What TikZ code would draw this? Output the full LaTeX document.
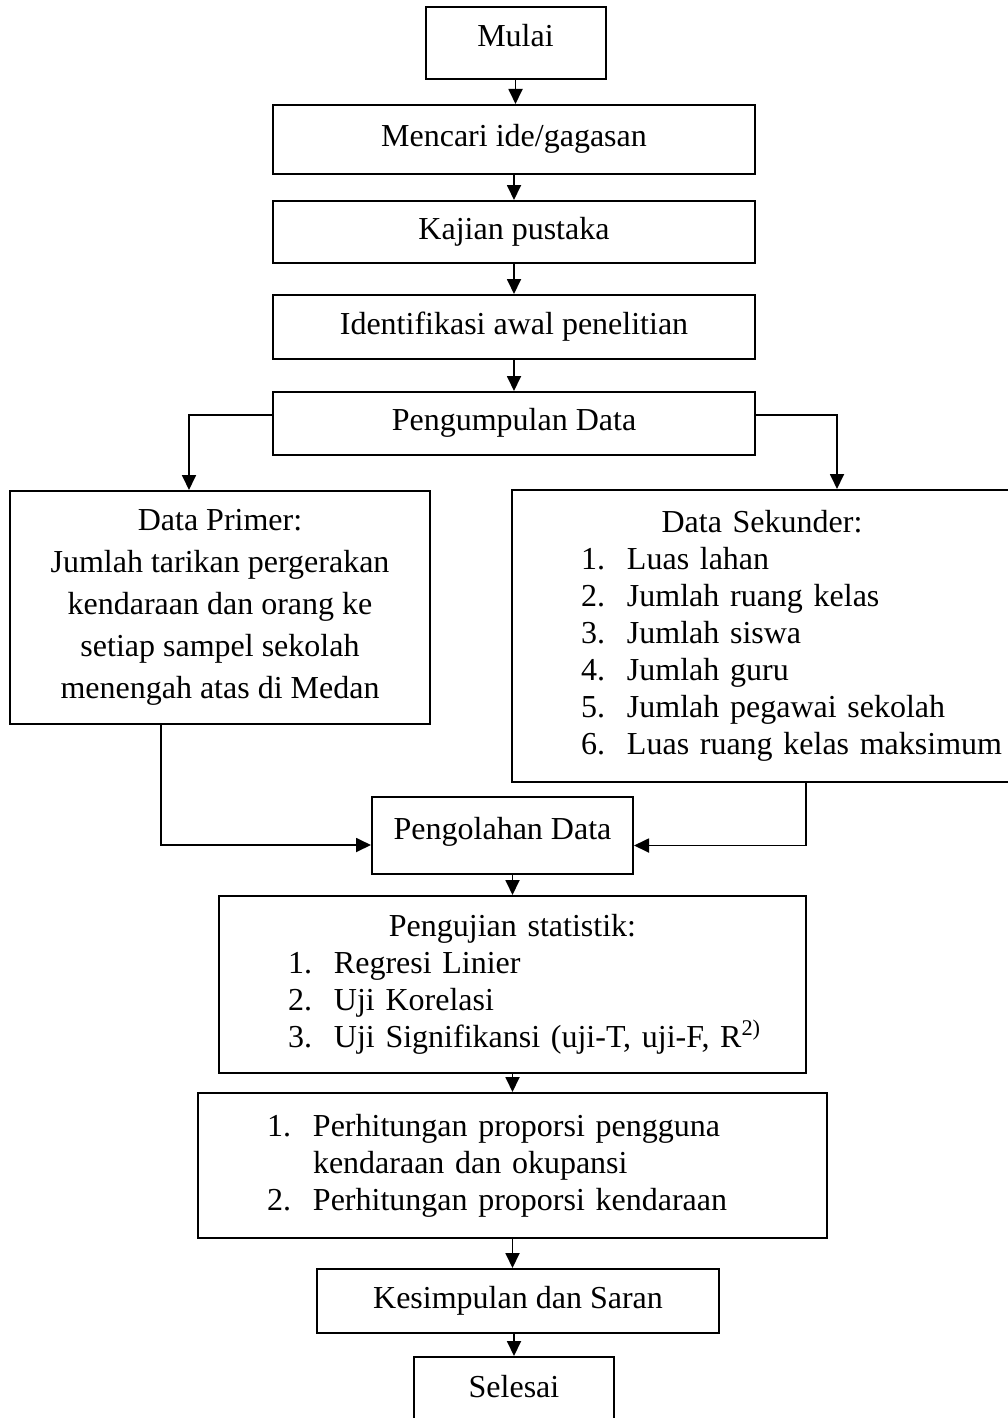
\documentclass[tikz,border=0pt]{standalone}
\usepackage{fontspec}
\setmainfont{Liberation Serif}
\usepackage{xcolor}
\usepackage{tikz}
\usetikzlibrary{arrows.meta}
\definecolor{ink}{HTML}{000000}
\tikzset{
  box/.style={draw=ink,line width=1pt,fill=white,inner sep=0pt,align=center,
    font=\fontsize{16}{18.5}\selectfont},
  boxone/.style={box,text height=11pt,text depth=4pt},   % one line of text
  boxlist/.style={box,align=left},                        % heading plus numbered list
  flow/.style={-{Triangle[length=7.5pt,width=7pt]},line width=0.9pt,draw=ink},
}
% numbered line: indent, number column, text
\newcommand{\numitem}[2]{\hspace*{34.5pt}\makebox[23pt][l]{#1}#2}

\begin{document}
\begin{tikzpicture}[x=0.5pt,y=-0.5pt]
  \useasboundingbox (0,0) rectangle (1007,1418);
  \node[boxone,minimum width=90pt,minimum height=36pt,text depth=7pt](start) at (515.5,43){Mulai};
  \node[boxone,minimum width=241pt,minimum height=34.5pt](idea) at (514,139.5){Mencari ide/gagasan};
  \node[boxone,minimum width=241pt,minimum height=31pt](lit) at (514,232){Kajian pustaka};
  \node[boxone,minimum width=241pt,minimum height=32pt](ident) at (514,327){Identifikasi awal penelitian};
  \node[boxone,minimum width=241pt,minimum height=31.5pt](collect) at (514,423.5){Pengumpulan Data};
  % --- the two kinds of data ---
  \node[box,minimum width=210pt,minimum height=116.5pt,font=\fontsize{16}{21}\selectfont](prim) at (220,607.5)
    {Data Primer:\\Jumlah tarikan pergerakan\\kendaraan dan orang ke\\setiap sampel sekolah\\menengah atas di Medan};
  \node[boxlist,text width=250pt,minimum height=146pt](sek) at (762,636)
    {\makebox[\linewidth]{Data Sekunder:}\\
     \numitem{1.}{Luas lahan}\\
     \numitem{2.}{Jumlah ruang kelas}\\
     \numitem{3.}{Jumlah siswa}\\
     \numitem{4.}{Jumlah guru}\\
     \numitem{5.}{Jumlah pegawai sekolah}\\
     \numitem{6.}{Luas ruang kelas maksimum}};
  \node[boxone,minimum width=130.5pt,minimum height=38.5pt,text depth=7pt](olah) at (502.5,835.5){Pengolahan Data};
  \node[boxlist,text width=293.5pt,minimum height=88.5pt](uji) at (512.5,984.5)
    {\makebox[\linewidth]{Pengujian statistik:}\\
     \numitem{1.}{Regresi Linier}\\
     \numitem{2.}{Uji Korelasi}\\
     \numitem{3.}{Uji Signifikansi (uji-T, uji-F, R\textsuperscript{2)}}};
  \node[boxlist,text width=314.5pt,minimum height=72.5pt](hitung) at (512.5,1165.5)
    {\numitem{1.}{Perhitungan proporsi pengguna}\\
     \numitem{}{kendaraan dan okupansi}\\
     \numitem{2.}{Perhitungan proporsi kendaraan}\par\vspace{4pt}};
  \node[boxone,minimum width=201pt,minimum height=32pt](simpul) at (518,1301){Kesimpulan dan Saran};
  \node[boxone,minimum width=100pt,minimum height=36.5pt,text depth=7pt](stop) at (514,1393.5){Selesai};
  % --- connectors ---
  \foreach \a/\b in {start/idea,idea/lit,lit/ident,ident/collect,uji/hitung,hitung/simpul}
    \draw[flow](\a.south)--(\a.south |- \b.north);
  \draw[flow](uji.north |- olah.south)--(uji.north);
  \draw[flow](stop.north |- simpul.south)--(stop.north);
  \draw[flow]([yshift=4.25pt]collect.west) -| ([xshift=-15.5pt]prim.north);
  \draw[flow]([yshift=4.25pt]collect.east) -| ([xshift=37.5pt]sek.north);
  \draw[flow]([xshift=-29.5pt]prim.south) |- ([yshift=-4.75pt]olah.west);
  \draw[flow]([xshift=22pt]sek.south) |- ([yshift=-5pt]olah.east);
\end{tikzpicture}
\end{document}
